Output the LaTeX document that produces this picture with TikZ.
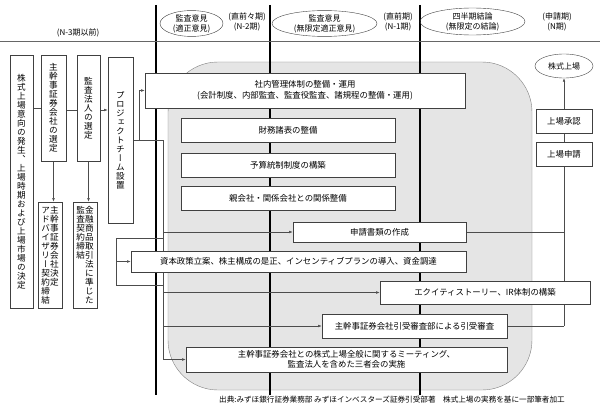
\documentclass[tikz,border=0pt]{standalone}
\usepackage{fontspec}
\newfontfamily\jp{Noto Sans CJK JP}
\newfontfamily\jpv[RawFeature=+vert]{Noto Sans CJK JP}
\usetikzlibrary{arrows.meta,shapes.geometric}
\pgfdeclarelayer{bg}
\pgfsetlayers{bg,main}
\newcommand\tatecol[1]{\vtop{\jpv\fontsize{8.6}{9}\selectfont\baselineskip=9pt\lineskiplimit=-20pt\lineskip=0pt\tateaux#1\relax}}
\def\tateaux#1{\ifx\relax#1\else\hbox to 1em{\hss#1\hss}\expandafter\tateaux\fi}
\begin{document}
\begin{tikzpicture}[x=1pt,y=-1pt,
	box/.style={draw=black!75, fill=white, line width=0.6pt, inner sep=0pt, align=center, font=\jp\fontsize{8.4}{10.5}\selectfont},
	tbox/.style={draw=black!75, fill=white, line width=0.6pt, inner sep=0pt},
	oval/.style={draw=black!75, ellipse, inner sep=0pt, align=center, font=\jp\fontsize{8}{10}\selectfont},
	lbl/.style={align=center, font=\jp\fontsize{8}{10}\selectfont},
	conn/.style={draw=black!70, line width=0.5pt},
	arr/.style={conn, -{Latex[length=3.5pt,width=2.6pt]}},
	period/.style={line width=1.6pt}]
			\useasboundingbox (0,0) rectangle (600,412);
			\pgfmathsetmacro\TopY{5}
			\pgfmathsetmacro\BotY{395}
			\pgfmathsetmacro\TrunkX{163}
			\coordinate (Dfork) at (139,140);
			\coordinate (Ttop) at (\TrunkX,140);
			\coordinate (Bk1) at (116,238);
			\coordinate (Bk2) at (116,285);
			\coordinate (Rj) at (564,326);

			\draw[black!60, line width=0.6pt] (0,41) -- (600,41);
			\node[lbl] (pre) at (78,33) {(N-3期以前)};
			\node[oval, minimum width=63, minimum height=23] (op1) at (191.5,23.5) {監査意見\\(適正意見)};
			\node[lbl] (n2) at (247,22) {(直前々期)\\(N-2期)};
			\node[oval, minimum width=105, minimum height=23] (op2) at (324.5,23.5) {監査意見\\(無限定適正意見)};
			\node[lbl] (n1) at (398,22) {(直前期)\\(N-1期)};
			\node[oval, minimum width=105, minimum height=27] (op3) at (472.5,21.5) {四半期結論\\(無限定の結論)};
			\node[lbl] (n0) at (557,22) {(申請期)\\(N期)};

			\node[tbox, minimum width=23, minimum height=253] (decide) at (21.5,181.5) {\tatecol{株式上場意向の発生、上場時期および上場市場の決定}};
			\node[tbox, minimum width=25, minimum height=106] (lead) at (53.5,108) {\tatecol{主幹事証券会社の選定}};
			\node[tbox, minimum width=23, minimum height=106] (auditor) at (88.5,108) {\tatecol{監査法人の選定}};
			\node[tbox, minimum width=25, minimum height=166] (team) at (120.5,140) {\tatecol{プロジェクトチーム設置}};
			\node[tbox, minimum width=24, minimum height=106] (advisory) at (50,255) {\tatecol{アドバイザリー契約締結}\tatecol{主幹事証券会社決定}};
			\node[tbox, minimum width=24, minimum height=106] (contract) at (85,255) {\tatecol{監査契約締結}\tatecol{金融商品取引法に準じた}};

			\node[box, minimum width=320, minimum height=35] (control) at (305,90.5) {社内管理体制の整備・運用\\(会計制度、内部監査、監査役監査、諸規程の整備・運用)};
			\node[box, minimum width=214, minimum height=24] (fs) at (288,130) {財務諸表の整備};
			\node[box, minimum width=214, minimum height=24] (budget) at (288,165) {予算統制制度の構築};
			\node[box, minimum width=214, minimum height=24] (group) at (288,198) {親会社・関係会社との関係整備};
			\node[box, minimum width=173, minimum height=20] (docs) at (379.5,232) {申請書類の作成};
			\node[box, minimum width=335, minimum height=21] (capital) at (298.5,261.5) {資本政策立案、株主構成の是正、インセンティブプランの導入、資金調達};
			\node[box, minimum width=210, minimum height=23] (equity) at (485,292.5) {エクイティストーリー、IR体制の構築};
			\node[box, minimum width=185, minimum height=24] (review) at (414.5,326) {主幹事証券会社引受審査部による引受審査};
			\node[box, minimum width=321, minimum height=25] (meeting) at (346.5,359.5) {主幹事証券会社との株式上場全般に関するミーティング、\\監査法人を含めた三者会の実施};

			\node[oval, minimum width=58, minimum height=24] (listing) at (564,66) {株式上場};
			\node[box, minimum width=56, minimum height=24] (approve) at (564,121) {上場承認};
			\node[box, minimum width=56, minimum height=24] (apply) at (564,154) {上場申請};

			\node[lbl, font=\jp\fontsize{7.6}{9}\selectfont] (source) at (392,400) {出典:みずほ銀行証券業務部 みずほインベスターズ証券引受部著\quad 株式上場の実務を基に一部筆者加工};

			\begin{pgfonlayer}{bg}
				\fill[black!10, draw=black!50, rounded corners=50] (168,62) rectangle (532,390);
				\foreach \X in {156,270,420}
					\draw[period] (\X,\TopY) -- (\X,\BotY);

				\draw[conn] (lead.west -| decide.east) -- (lead.west);
				\draw[conn] (lead.east |- 0,110) -- (auditor.west |- 0,110);
				\draw[arr] (auditor.east |- 0,110) -- (team.west |- 0,110);
				\draw[arr] (lead.south) -- (lead.south |- advisory.north);
				\draw[arr] (auditor.south) -- (auditor.south |- contract.north);

				\draw[conn] (team.east) -- (Ttop);
				\draw[arr] (Dfork) |- (control.west);
				\draw[arr] (Ttop) |- (meeting.west);
				\draw[arr] (Ttop) |- (docs.west);
				\draw[arr] (Ttop) |- (equity.west);
				\draw[arr] (Ttop) |- (review.west);
				\draw[conn] (Ttop |- Bk1) -- (Bk1) -- (Bk2) -- (Ttop |- Bk2);
				\draw[arr] (Bk1 |- capital.west) -- (capital.west);

				\draw[conn] (docs.east) -- (docs.east -| Rj);
				\draw[conn] (review.east) -- (Rj);
				\draw[conn] (Rj) -- (apply.south);
				\draw[conn] (apply.north) -- (approve.south);
				\draw[arr] (approve.north) -- (listing.south);
			\end{pgfonlayer}
\end{tikzpicture}
\end{document}
